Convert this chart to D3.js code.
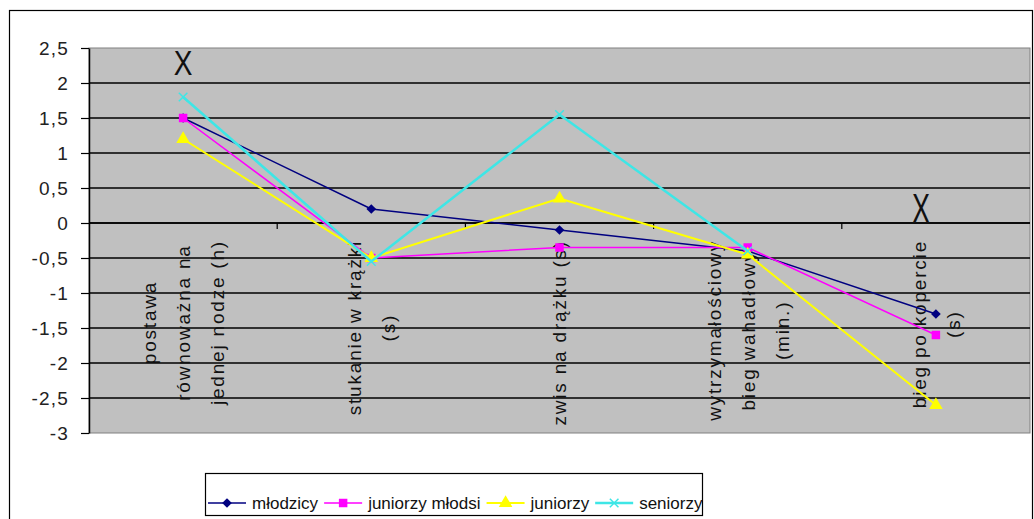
<!DOCTYPE html>
<html>
<head>
<meta charset="utf-8">
<script src="https://cdn.jsdelivr.net/npm/d3@7"></script>
<style>
  html, body { margin: 0; padding: 0; background: #fff; }
  svg { display: block; font-family: "Liberation Sans", Arial, sans-serif; }
</style>
</head>
<body>
<svg id="chart" width="1034" height="519"></svg>
<script>
// Categories (multi-line axis labels) and per-group scores
const categories = [
  "postawa równoważna na jednej nodze (h)",
  "stukanie w krążki (s)",
  "zwis na drążku (s)",
  "wytrzymałościowy bieg wahadłowy (min.)",
  "bieg po kopercie (s)"
];
const categoryLines = [
  ["postawa", "równoważna na", "jednej nodze (h)"],
  ["stukanie w krążki", "(s)"],
  ["zwis na drążku (s)"],
  ["wytrzymałościowy", "bieg wahadłowy", "(min.)"],
  ["bieg po kopercie", "(s)"]
];
const seriesNames = ["młodzicy", "juniorzy młodsi", "juniorzy", "seniorzy"];
const mlodzicy       = [1.5, 0.2, -0.1, -0.4, -1.3];
const juniorzyMlodsi = [1.5, -0.5, -0.35, -0.35, -1.6];
const juniorzy       = [1.2, -0.5, 0.35, -0.45, -2.6];
const seniorzy       = [1.8, -0.55, 1.55, -0.4, null];
const yTicks = [2.5, 2, 1.5, 1, 0.5, 0, -0.5, -1, -1.5, -2, -2.5, -3];

const seriesStyle = [
  { color: "#000080", width: 1.5, marker: "diamond" },
  { color: "#ff00ff", width: 1.5, marker: "square" },
  { color: "#ffff00", width: 2, marker: "triangle" },
  { color: "#3ee6e6", width: 2.5, marker: "cross" }
];
const seriesData = [mlodzicy, juniorzyMlodsi, juniorzy, seniorzy];

const svg = d3.select("#chart");
const plot = { left: 89, top: 48, right: 1030, bottom: 433 };

const locale = d3.formatLocale({ decimal: ",", thousands: " ", grouping: [3], currency: ["", ""], minus: "-" });
const fmt = locale.format("~g");

const x = d3.scaleBand().domain(categories).range([plot.left, plot.right]).paddingInner(0).paddingOuter(0);
const y = d3.scaleLinear().domain([-3, 2.5]).range([plot.bottom, plot.top]);
const cx = c => x(c) + x.bandwidth() / 2;

// Chart frame
svg.append("rect").attr("x", 9.5).attr("y", 10.5).attr("width", 1023).attr("height", 530)
  .attr("fill", "#fff").attr("stroke", "#000").attr("stroke-width", 1.2);

// Plot area
svg.append("rect").attr("x", plot.left).attr("y", plot.top)
  .attr("width", plot.right - plot.left).attr("height", plot.bottom - plot.top)
  .attr("fill", "#c0c0c0").attr("stroke", "#808080").attr("stroke-width", 1);

// Horizontal gridlines
svg.append("g").selectAll("line").data(yTicks.filter(v => v < 2.5 && v > -3)).join("line")
  .attr("x1", plot.left).attr("x2", plot.right)
  .attr("y1", d => y(d)).attr("y2", d => y(d))
  .attr("stroke", "#000").attr("stroke-width", 1.5);

// Value axis
const yAxis = d3.axisLeft(y).tickValues(yTicks).tickFormat(fmt).tickSize(8).tickSizeOuter(0);
const gy = svg.append("g").attr("transform", `translate(${plot.left},0)`).call(yAxis);
gy.select(".domain").attr("stroke", "#000").attr("stroke-width", 1.5);
gy.selectAll(".tick line").attr("stroke", "#000").attr("stroke-width", 1.2);
gy.selectAll(".tick text").attr("x", -20).attr("dy", "0.36em")
  .attr("font-size", 19).attr("letter-spacing", 1.2).attr("fill", "#222");

// Category axis crossing at zero, with ticks between categories
const gx = svg.append("g").attr("transform", `translate(0,${y(0)})`);
gx.append("line").attr("x1", plot.left).attr("x2", plot.right).attr("stroke", "#000").attr("stroke-width", 1.5);
gx.selectAll("line.tk").data(categories.slice(1)).join("line").attr("class", "tk")
  .attr("x1", d => x(d)).attr("x2", d => x(d)).attr("y1", 0).attr("y2", 6)
  .attr("stroke", "#000").attr("stroke-width", 1.2);

// Rotated multi-line category labels
const labelTop = 240, lineGap = 34, labelSize = 19;
categories.forEach((c, i) => {
  const lines = categoryLines[i];
  const g = svg.append("g");
  const texts = lines.map(t => g.append("text").text(t)
    .attr("font-size", labelSize).attr("letter-spacing", 1.8).attr("fill", "#111")
    .attr("text-anchor", "middle"));
  const maxLen = d3.max(texts, t => t.node().getComputedTextLength());
  const midY = labelTop + maxLen / 2;
  texts.forEach((t, j) => {
    const colX = cx(c) + (j - (lines.length - 1) / 2) * lineGap + labelSize * 0.36;
    t.attr("transform", `translate(${colX},${midY}) rotate(-90)`);
  });
});

// Marker symbols
function drawMarker(sel, type, color) {
  if (type === "diamond") {
    sel.append("path").attr("d", d3.symbol(d3.symbolDiamond2, 60)()).attr("fill", color);
  } else if (type === "square") {
    sel.append("path").attr("d", d3.symbol(d3.symbolSquare, 72)()).attr("fill", color);
  } else if (type === "triangle") {
    sel.append("path").attr("d", d3.symbol(d3.symbolTriangle, 80)()).attr("fill", color);
  } else if (type === "cross") {
    sel.append("path").attr("d", d3.symbol(d3.symbolTimes, 50)()).attr("fill", "none")
      .attr("stroke", color).attr("stroke-width", 1.5);
  }
}

// Series lines and markers
seriesData.forEach((vals, s) => {
  const st = seriesStyle[s];
  const pts = vals.map((v, i) => ({ c: categories[i], v }));
  const line = d3.line().defined(d => d.v !== null).x(d => cx(d.c)).y(d => y(d.v));
  svg.append("path").datum(pts).attr("d", line)
    .attr("fill", "none").attr("stroke", st.color).attr("stroke-width", st.width)
    .attr("stroke-linejoin", "round");
  svg.append("g").selectAll("g").data(pts.filter(d => d.v !== null)).join("g")
    .attr("transform", d => `translate(${cx(d.c)},${y(d.v)})`)
    .each(function () { drawMarker(d3.select(this), st.marker, st.color); });
});

// Hand-placed "X" annotations
svg.append("text").text("X").attr("font-size", 28).attr("fill", "#111").attr("text-anchor", "middle")
  .attr("transform", `translate(${cx(categories[0])},${y(2.3) + 13}) scale(1,1.25)`);
svg.append("text").text("X").attr("font-size", 27).attr("fill", "#111").attr("text-anchor", "middle")
  .attr("transform", `translate(${cx(categories[4]) - 15},${y(0.23) + 16}) scale(1,1.6)`);

// Legend
const lg = svg.append("g");
lg.append("rect").attr("x", 205.5).attr("y", 473.5).attr("width", 497).attr("height", 42)
  .attr("fill", "#fff").attr("stroke", "#000").attr("stroke-width", 1.2);
let lx = 208;
const ly = 503;
seriesNames.forEach((name, s) => {
  const st = seriesStyle[s];
  lg.append("line").attr("x1", lx).attr("x2", lx + 38).attr("y1", ly).attr("y2", ly)
    .attr("stroke", st.color).attr("stroke-width", st.width);
  const m = lg.append("g").attr("transform", `translate(${lx + 19},${ly})`);
  drawMarker(m, st.marker, st.color);
  const t = lg.append("text").text(name).attr("x", lx + 44).attr("y", ly + 6)
    .attr("font-size", 17).attr("fill", "#111");
  lx = lx + 44 + t.node().getComputedTextLength() + 6;
});
</script>
</body>
</html>
